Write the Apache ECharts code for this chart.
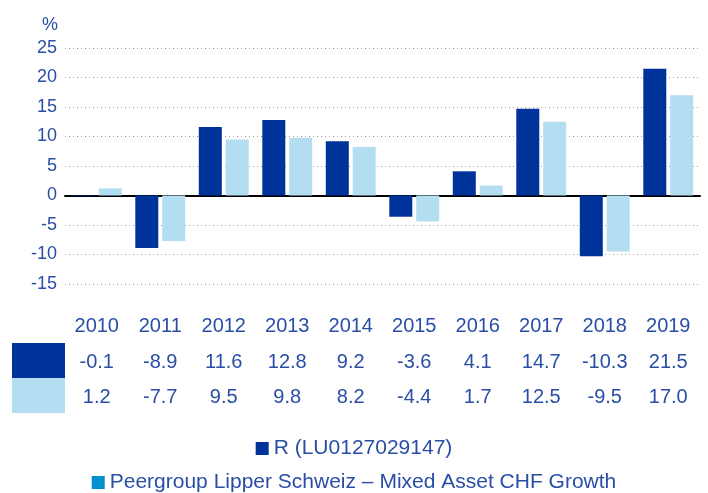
<!DOCTYPE html>
<html>
<head>
<meta charset="utf-8">
<script src="https://cdn.jsdelivr.net/npm/echarts@6/dist/echarts.min.js"></script>
<style>
  html, body { margin: 0; padding: 0; background: #fff; }
  #chart { width: 708px; height: 493px; }
</style>
</head>
<body>
<div id="chart"></div>
<script>
  var years = ['2010', '2011', '2012', '2013', '2014', '2015', '2016', '2017', '2018', '2019'];
  var fundValues = [-0.1, -8.9, 11.6, 12.8, 9.2, -3.6, 4.1, 14.7, -10.3, 21.5];
  var peerValues = [1.2, -7.7, 9.5, 9.8, 8.2, -4.4, 1.7, 12.5, -9.5, 17.0];
  var fundName = 'R (LU0127029147)';
  var peerName = 'Peergroup Lipper Schweiz \u2013 Mixed Asset CHF Growth';

  var textBlue = '#2a4ea6';
  var darkBlue = '#003399';
  var lightBlue = '#b3ddf1';
  var font = 'Liberation Sans';

  function fmt(v) { return v.toFixed(1); }

  // extra x axes used as the table rows under the chart
  function tableAxis(data, offset) {
    return {
      type: 'category',
      data: data,
      position: 'bottom',
      offset: offset,
      axisLine: { show: false, onZero: false },
      axisTick: { show: false },
      splitLine: { show: false },
      axisLabel: { color: textBlue, fontSize: 20, fontFamily: font, margin: 0, interval: 0 }
    };
  }

  function legendRow(name, color, top) {
    return {
      data: [{ name: name, itemStyle: { color: color } }],
      left: 'center', top: top,
      itemWidth: 13, itemHeight: 13, itemGap: 10,
      icon: 'rect',
      selectedMode: false,
      textStyle: { color: textBlue, fontSize: 21, fontFamily: font }
    };
  }

  var chart = echarts.init(document.getElementById('chart'));
  chart.setOption({
    animation: false,
    grid: { left: 65, right: 8, top: 48, bottom: 209 },
    legend: [
      legendRow(fundName, darkBlue, 433),
      legendRow(peerName, '#0090d0', 467)
    ],
    xAxis: [
      {
        type: 'category',
        data: years,
        axisLine: { show: true, onZero: true, lineStyle: { color: '#000', width: 2 } },
        axisTick: { show: false },
        axisLabel: { show: false }
      },
      tableAxis(years, 32),
      tableAxis(fundValues.map(fmt), 68),
      tableAxis(peerValues.map(fmt), 103)
    ],
    yAxis: {
      type: 'value',
      min: -15,
      max: 25,
      interval: 5,
      name: '%',
      nameGap: 14,
      nameTextStyle: { color: textBlue, fontSize: 18, fontFamily: font, align: 'right', padding: [0, 7, 0, 0] },
      axisLine: { show: false },
      axisTick: { show: false },
      axisLabel: { color: textBlue, fontSize: 18, fontFamily: font, margin: 8 },
      splitLine: { lineStyle: { color: '#a0a0a0', type: [1, 3], width: 1.2 } }
    },
    series: [
      {
        name: fundName,
        type: 'bar',
        data: fundValues,
        barWidth: 23,
        barGap: '17%',
        itemStyle: { color: darkBlue }
      },
      {
        name: peerName,
        type: 'bar',
        data: peerValues,
        barWidth: 23,
        itemStyle: { color: lightBlue }
      }
    ],
    graphic: [
      { type: 'rect', shape: { x: 12, y: 343, width: 53, height: 35 }, style: { fill: darkBlue } },
      { type: 'rect', shape: { x: 12, y: 378, width: 53, height: 35 }, style: { fill: lightBlue } }
    ]
  });
</script>
</body>
</html>
